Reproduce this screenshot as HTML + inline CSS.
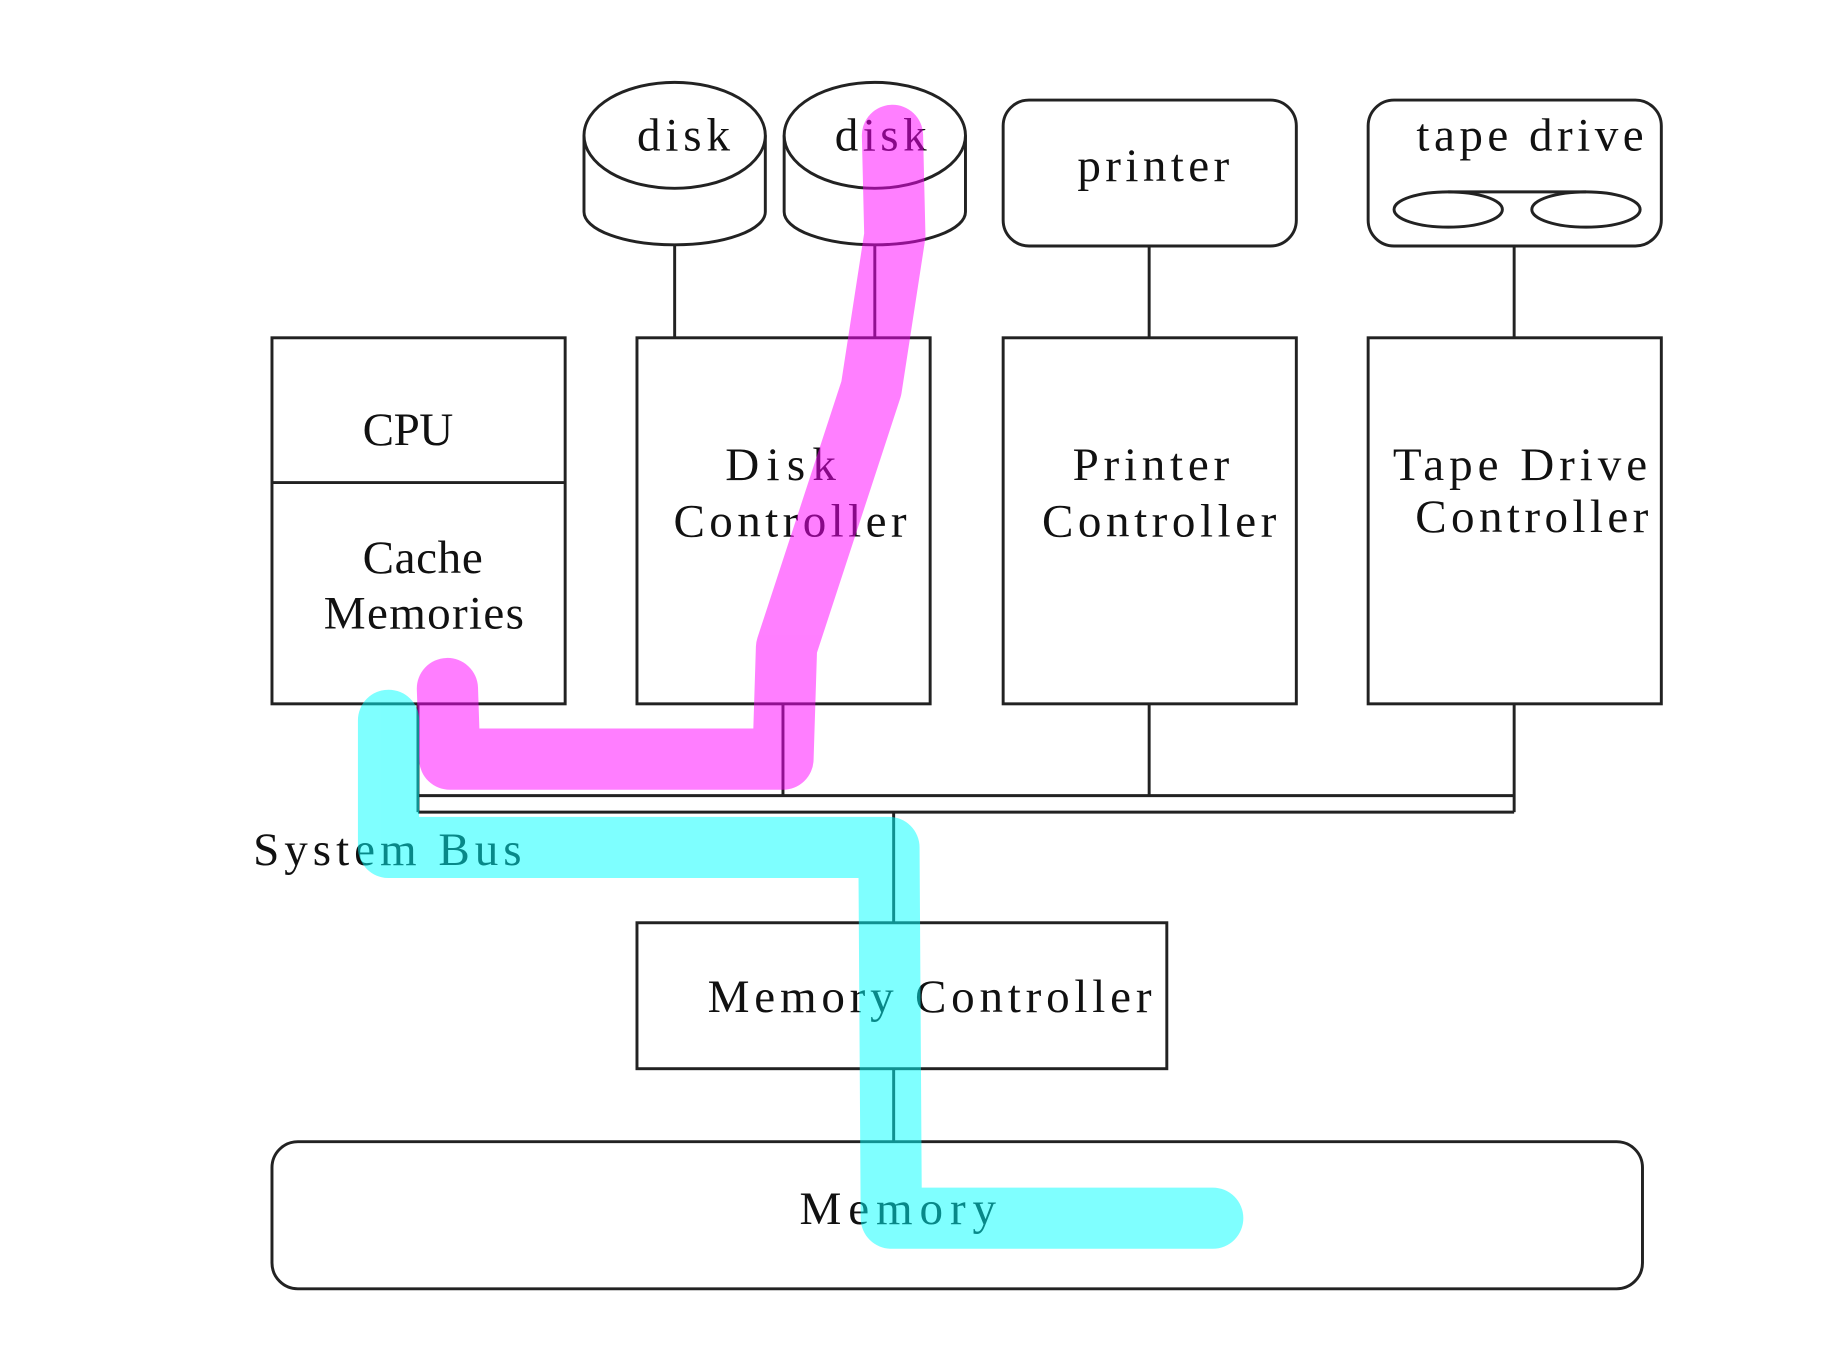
<!DOCTYPE html>
<html><head><meta charset="utf-8"><style>
html,body{margin:0;padding:0;background:#fff;}
svg{display:block;}
text{font-family:"Liberation Serif",serif;font-size:40px;fill:#111;}
</style></head><body>
<svg width="1845" height="1350" viewBox="0 0 1567 1147" preserveAspectRatio="none" xmlns="http://www.w3.org/2000/svg">
<g fill="none" stroke="#222" stroke-width="2.5">
<path d="M496,115 L496,180 A77,28 0 0 0 650,180 L650,115"/>
<ellipse cx="573" cy="115" rx="77" ry="45" fill="#fff"/>
<path d="M666,115 L666,180 A77,28 0 0 0 820,180 L820,115"/>
<ellipse cx="743" cy="115" rx="77" ry="45" fill="#fff"/>
<line x1="573" y1="207" x2="573" y2="287"/>
<line x1="743" y1="207" x2="743" y2="287"/>
<rect x="852" y="85" width="249" height="124" rx="22"/>
<line x1="976" y1="209" x2="976" y2="287"/>
<rect x="1162" y="85" width="249" height="124" rx="22"/>
<ellipse cx="1230" cy="178" rx="46" ry="15"/>
<ellipse cx="1347" cy="178" rx="46" ry="15"/>
<line x1="1230" y1="163" x2="1347" y2="163"/>
<line x1="1286" y1="209" x2="1286" y2="287"/>
<rect x="231" y="287" width="249" height="311"/>
<line x1="231" y1="410" x2="480" y2="410"/>
<rect x="541" y="287" width="249" height="311"/>
<rect x="852" y="287" width="249" height="311"/>
<rect x="1162" y="287" width="249" height="311"/>
<line x1="355" y1="598" x2="355" y2="690"/>
<line x1="665" y1="598" x2="665" y2="676"/>
<line x1="976" y1="598" x2="976" y2="676"/>
<line x1="1286" y1="598" x2="1286" y2="690"/>
<line x1="355" y1="676" x2="1286" y2="676"/>
<line x1="355" y1="690" x2="1286" y2="690"/>
<line x1="759" y1="690" x2="759" y2="784"/>
<rect x="541" y="784" width="450" height="124"/>
<line x1="759" y1="908" x2="759" y2="970"/>
<rect x="231" y="970" width="1164" height="125" rx="22"/>
</g>
<text x="541" y="128" textLength="79">disk</text>
<text x="709" y="128" textLength="78">disk</text>
<text x="915" y="154" textLength="129">printer</text>
<text x="1203" y="128" textLength="193">tape drive</text>
<text x="308" y="378" textLength="77">CPU</text>
<text x="308" y="487" textLength="102">Cache</text>
<text x="275" y="534" textLength="170">Memories</text>
<text x="616" y="408" textLength="94">Disk</text>
<text x="572" y="456" textLength="198">Controller</text>
<text x="911" y="408" textLength="133">Printer</text>
<text x="885" y="456" textLength="199">Controller</text>
<text x="1183" y="408" textLength="216">Tape Drive</text>
<text x="1202" y="452" textLength="198">Controller</text>
<text x="215" y="735" textLength="228">System Bus</text>
<text x="601" y="860" textLength="377">Memory Controller</text>
<text x="679" y="1040" textLength="167">Memory</text>
<g fill="none" stroke-linecap="round" stroke-linejoin="round" stroke-width="52" opacity="0.5">
<path d="M380,585 L382,645 L665,645 L668,550 L740,330 L760,200 L758,115" stroke="#ff00ff"/>
<path d="M330,612 L330,720 L755,720 L757,1035 L1030,1035" stroke="#00ffff"/>
</g>
</svg>
</body></html>
